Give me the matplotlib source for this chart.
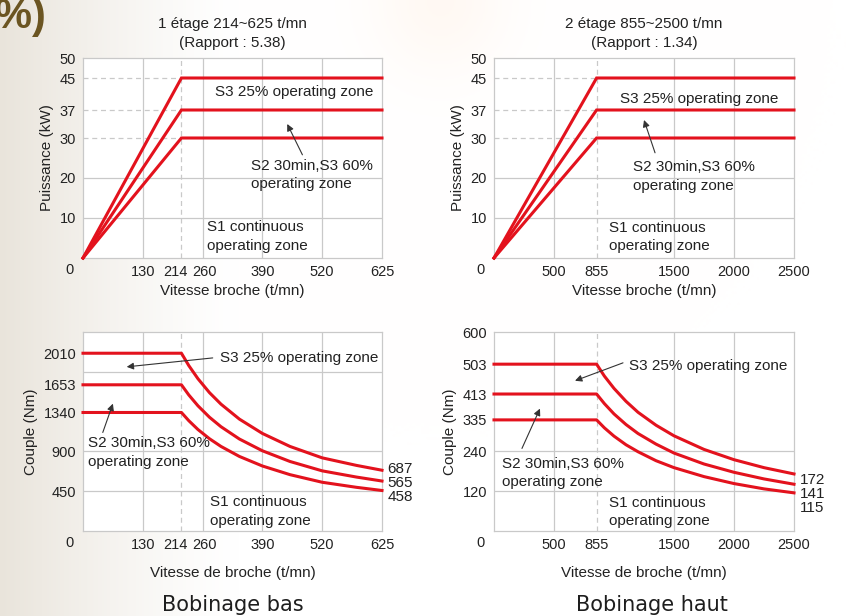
import numpy as np
import matplotlib
matplotlib.use("Agg")
import matplotlib.pyplot as plt
from matplotlib import transforms

plt.rcParams['font.family'] = ['Liberation Sans', 'DejaVu Sans']

# --- data ---
power_levels = [30, 37, 45]              # kW, S1 / S2 / S3
low_knee, low_max = 214, 625             # t/mn, bobinage bas
high_knee, high_max = 855, 2500          # t/mn, bobinage haut

low_torque_max = [1340, 1653, 2010]
low_torque_end = [458, 565, 687]
high_torque_max = [335, 413, 503]
high_torque_end = [115, 141, 172]

# torque curves above the knee
low_speed = [214, 230, 250, 275, 300, 340, 390, 450, 520, 580, 625]
low_torque = [
    [1340, 1247, 1147, 1043, 956, 843, 735, 637, 551, 494, 458],
    [1653, 1538, 1415, 1286, 1179, 1040, 907, 786, 680, 610, 565],
    [2010, 1870, 1721, 1564, 1434, 1265, 1103, 956, 827, 742, 687],
]
high_speed = [855, 920, 1000, 1100, 1200, 1350, 1500, 1750, 2000, 2250, 2500]
high_torque = [
    [335, 311, 286, 260, 239, 212, 191, 164, 143, 127, 115],
    [413, 384, 353, 321, 294, 262, 235, 202, 177, 157, 141],
    [503, 467, 430, 391, 358, 319, 287, 246, 215, 191, 172],
]

low_xticks = [130, 214, 260, 390, 520, 625]
low_xgrid = [130, 260, 390, 520]
high_xticks = [500, 855, 1500, 2000, 2500]
high_xgrid = [500, 1500, 2000]

RED = '#e3121d'
GRID = '#c9c9c9'
TXT = '#222222'
LS = 1.4


def low_fwd(x):
    x = np.asarray(x, dtype=float)
    return np.where(x <= 520, x, 520 + (x - 520) * 130.0 / 105.0)


def low_inv(y):
    y = np.asarray(y, dtype=float)
    return np.where(y <= 520, y, 520 + (y - 520) * 105.0 / 130.0)


fig = plt.figure(figsize=(8.46, 6.16), dpi=100)

# warm paper background: grey-beige on the left, faint peach glow top middle
bg = fig.add_axes([0, 0, 1, 1], zorder=-10)
gx, gy = np.meshgrid(np.linspace(0, 1, 300), np.linspace(1, 0, 220))
w_left = np.clip(1 - gx / 0.28, 0, 1) ** 1.3
w_glow = 0.35 * np.exp(-(((gx - 0.52) / 0.08) ** 2 + ((gy - 1.0) / 0.12) ** 2))
img = np.ones(gx.shape + (3,))
img = img * (1 - w_left[..., None]) + w_left[..., None] * np.array([0.915, 0.895, 0.86])
img = img * (1 - w_glow[..., None]) + w_glow[..., None] * np.array([1.0, 0.93, 0.87])
bg.imshow(img, aspect='auto', extent=[0, 1, 0, 1])
bg.set_axis_off()

fig.text(-0.006, 1.005, "%)", fontsize=30, fontweight='bold', color='#6b5522',
         ha='left', va='top')


def style(ax, xmax, xticks, xgrid, knee, ylim, yticks, ygrid, dashed_y, xlabel, ylabel):
    ax.set_facecolor('white')
    for s in ax.spines.values():
        s.set_color(GRID)
        s.set_linewidth(0.9)
    ax.set_xlim(0, xmax)
    ax.set_ylim(*ylim)
    ax.set_xticks(xticks)
    ax.set_yticks(yticks)
    ax.tick_params(length=0, labelsize=10.5, colors=TXT, pad=5)
    for g in xgrid:
        ax.axvline(g, color=GRID, lw=0.9, zorder=1)
    for g in ygrid:
        ax.axhline(g, color=GRID, lw=0.9, zorder=1)
    ax.axvline(knee, color=GRID, lw=0.9, ls=(0, (4, 3)), zorder=1)
    for y in dashed_y:
        ax.plot([0, knee], [y, y], color=GRID, lw=0.9, ls=(0, (4, 3)), zorder=1)
    ax.set_xlabel(xlabel, fontsize=11, color=TXT, labelpad=4)
    ax.set_ylabel(ylabel, fontsize=11, color=TXT, labelpad=4)
    ax.text(-0.045, -0.06, "0", transform=ax.transAxes, ha='center', va='center',
            fontsize=10.5, color=TXT)


def squeeze_knee_label(ax):
    # the 214 / 260 labels sit close together, nudge them apart like the original
    labels = ax.get_xticklabels()
    labels[1].set_transform(labels[1].get_transform() +
                            transforms.ScaledTranslation(-6 / 100, 0, fig.dpi_scale_trans))
    labels[2].set_transform(labels[2].get_transform() +
                            transforms.ScaledTranslation(2 / 100, 0, fig.dpi_scale_trans))


def arrow(ax, tail, head):
    ax.annotate('', xy=head, xytext=tail,
                arrowprops=dict(arrowstyle='-|>', color='#333333', lw=0.8,
                                mutation_scale=10, shrinkA=0, shrinkB=0), zorder=5)


def zone_text(ax, x, y, s):
    ax.text(x, y, s, fontsize=11, color=TXT, va='center', linespacing=LS)


# ---------- top left : power, bobinage bas ----------
ax1 = fig.add_axes([83 / 846, 1 - 258 / 616, 299 / 846, 200 / 616])
ax1.set_xscale('function', functions=(low_fwd, low_inv))
style(ax1, low_max, low_xticks, low_xgrid, low_knee, (0, 50), [10, 20, 30, 37, 45, 50],
      [10, 20], power_levels, "Vitesse broche (t/mn)", "Puissance (kW)")
squeeze_knee_label(ax1)
for p in power_levels:
    ax1.plot([0, low_knee, low_max], [0, p, p], color=RED, lw=2.2, zorder=3,
             solid_joinstyle='miter', clip_on=False)
ax1.set_title("1 étage 214~625 t/mn\n(Rapport : 5.38)", fontsize=11, color=TXT,
              pad=8, linespacing=1.45)
zone_text(ax1, 286, 41.5, "S3 25% operating zone")
zone_text(ax1, 366, 20.8, "S2 30min,S3 60%\noperating zone")
zone_text(ax1, 269, 5.4, "S1 continuous\noperating zone")
arrow(ax1, (477, 25.8), (444, 33.5))

# ---------- top right : power, bobinage haut ----------
ax2 = fig.add_axes([494 / 846, 1 - 258 / 616, 300 / 846, 200 / 616])
style(ax2, high_max, high_xticks, high_xgrid, high_knee, (0, 50), [10, 20, 30, 37, 45, 50],
      [10, 20], power_levels, "Vitesse broche (t/mn)", "Puissance (kW)")
for p in power_levels:
    ax2.plot([0, high_knee, high_max], [0, p, p], color=RED, lw=2.2, zorder=3,
             solid_joinstyle='miter', clip_on=False)
ax2.set_title("2 étage 855~2500 t/mn\n(Rapport : 1.34)", fontsize=11, color=TXT,
              pad=8, linespacing=1.45)
zone_text(ax2, 1050, 39.75, "S3 25% operating zone")
zone_text(ax2, 1158, 20.4, "S2 30min,S3 60%\noperating zone")
zone_text(ax2, 958, 5.25, "S1 continuous\noperating zone")
arrow(ax2, (1342, 26.3), (1250, 34.5))

# ---------- bottom left : torque, bobinage bas ----------
ax3 = fig.add_axes([83 / 846, 1 - 531 / 616, 299 / 846, 199 / 616])
ax3.set_xscale('function', functions=(low_fwd, low_inv))
style(ax3, low_max, low_xticks, low_xgrid, low_knee, (0, 2250),
      [450, 900, 1340, 1653, 2010], [450, 900, 1800], [],
      "Vitesse de broche (t/mn)", "Couple (Nm)")
squeeze_knee_label(ax3)
ax3.xaxis.labelpad = 10
for tmax, curve in zip(low_torque_max, low_torque):
    ax3.plot([0] + low_speed, [tmax] + curve, color=RED, lw=2.2, zorder=3, clip_on=False)
tr3 = transforms.blended_transform_factory(ax3.transAxes, ax3.transData)
for val, y in zip(low_torque_end[::-1], [697, 540, 382]):
    ax3.text(1.018, y, str(val), transform=tr3, fontsize=11, color=TXT, va='center')
zone_text(ax3, 297, 1957, "S3 25% operating zone")
zone_text(ax3, 11, 889, "S2 30min,S3 60%\noperating zone")
zone_text(ax3, 277, 219, "S1 continuous\noperating zone")
arrow(ax3, (282, 1957), (95, 1856))
arrow(ax3, (43, 1114), (65, 1440))

# ---------- bottom right : torque, bobinage haut ----------
ax4 = fig.add_axes([494 / 846, 1 - 531 / 616, 300 / 846, 199 / 616])
style(ax4, high_max, high_xticks, high_xgrid, high_knee, (0, 600),
      [120, 240, 335, 413, 503, 600], [120, 240], [],
      "Vitesse de broche (t/mn)", "Couple (Nm)")
ax4.xaxis.labelpad = 10
for tmax, curve in zip(high_torque_max, high_torque):
    ax4.plot([0] + high_speed, [tmax] + curve, color=RED, lw=2.2, zorder=3, clip_on=False)
tr4 = transforms.blended_transform_factory(ax4.transAxes, ax4.transData)
for val, y in zip(high_torque_end[::-1], [153, 111, 69]):
    ax4.text(1.018, y, str(val), transform=tr4, fontsize=11, color=TXT, va='center')
zone_text(ax4, 1125, 498, "S3 25% operating zone")
zone_text(ax4, 67, 175, "S2 30min,S3 60%\noperating zone")
zone_text(ax4, 958, 57, "S1 continuous\noperating zone")
arrow(ax4, (1075, 507), (675, 453))
arrow(ax4, (233, 249), (383, 369))

fig.text(233 / 846, 1 - 605 / 616, "Bobinage bas", fontsize=15, color='#1e1e1e',
         ha='center', va='center', family=['DejaVu Sans'])
fig.text(652 / 846, 1 - 605 / 616, "Bobinage haut", fontsize=15, color='#1e1e1e',
         ha='center', va='center', family=['DejaVu Sans'])

fig.savefig("out.png", dpi=100)
